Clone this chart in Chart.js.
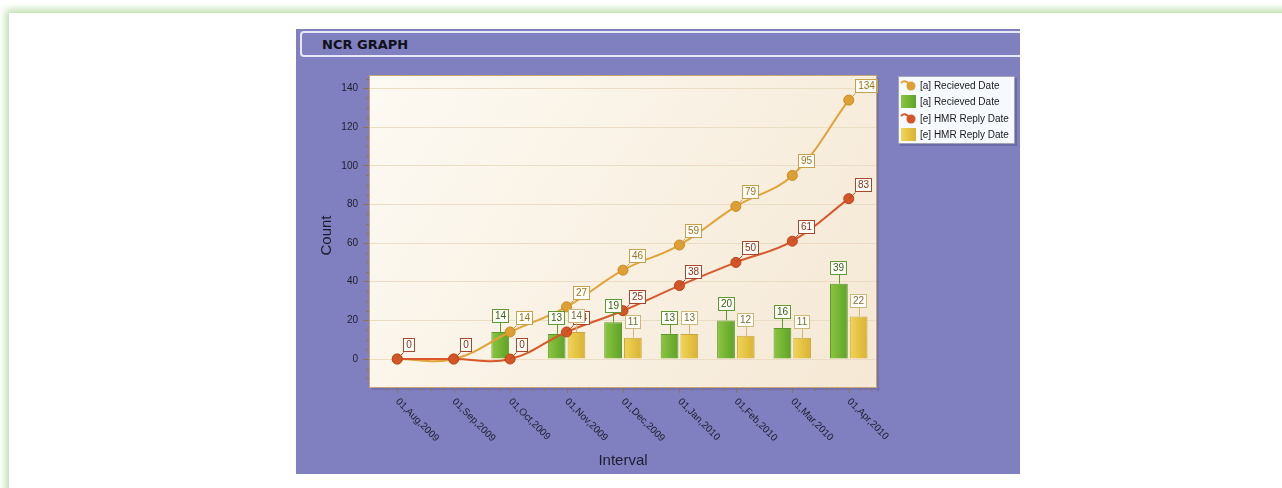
<!DOCTYPE html>
<html>
<head>
<meta charset="utf-8">
<script src="https://cdn.jsdelivr.net/npm/chart.js@4.4.1/dist/chart.umd.min.js"></script>
<style>
  html, body { margin: 0; padding: 0; background: #fff; overflow: hidden; }
  body { width: 1282px; height: 488px; position: relative; }
  #frame { position: absolute; left: 9px; top: 13px; width: 1320px; height: 520px; background: #fff; box-shadow: 0 0 8px 3px #b6dca6; }
  #panel { position: absolute; left: 296px; top: 29px; width: 724px; height: 445px; background: #8080c0; overflow: hidden; }
  #titlebar { position: absolute; left: 4px; top: 2px; width: 740px; height: 26px; border: 2px solid #e6e6f6; border-radius: 4px; box-sizing: border-box; }
  #titlebar span { position: absolute; left: 20px; top: 4px; font: bold 13px "DejaVu Sans", sans-serif; color: #101018; }
  #chart { position: absolute; left: 0; top: 0; }
</style>
</head>
<body>
<div id="frame"></div>
<div id="panel">
  <div id="titlebar"><span>NCR GRAPH</span></div>
  <canvas id="chart" width="724" height="445"></canvas>
</div>
<script>
// chart data
const categories = ['01,Aug,2009', '01,Sep,2009', '01,Oct,2009', '01,Nov,2009', '01,Dec,2009',
                    '01,Jan,2010', '01,Feb,2010', '01,Mar,2010', '01,Apr,2010'];
const receivedTotal = [0, 0, 14, 27, 46, 59, 79, 95, 134];
const receivedMonth = [0, 0, 14, 13, 19, 13, 20, 16, 39];
const replyTotal = [0, 0, 0, 14, 25, 38, 50, 61, 83];
const replyMonth = [0, 0, 0, 14, 11, 13, 12, 11, 22];
const yTicks = [0, 20, 40, 60, 80, 100, 120, 140];

const FONT = '"Liberation Sans", Arial, sans-serif';

// per-dataset label box colours
const labelStyle = [
  { border: '#c9a04a', text: '#9a7420' },
  { border: '#5e9a30', text: '#356018' },
  { border: '#a9472a', text: '#8a3018' },
  { border: '#cdb87a', text: '#7c6c3a' }
];

function barGradient(ctx, left, right) {
  const chart = ctx.chart;
  if (!chart.chartArea) return left;
  const x = chart.scales.x.getPixelForValue(ctx.dataIndex);
  const side = ctx.datasetIndex === 1 ? -1 : 1;
  const g = chart.ctx.createLinearGradient(x + (side < 0 ? -19 : 1), 0, x + (side < 0 ? -1 : 19), 0);
  g.addColorStop(0, left);
  g.addColorStop(1, right);
  return g;
}

const decor = {
  id: 'decor',
  beforeDraw(chart) {
    const { ctx, chartArea: a } = chart;
    ctx.save();
    // soft shadow on right / bottom
    ctx.fillStyle = '#7272b0';
    ctx.fillRect(a.left + 3, a.bottom, a.right - a.left, 2);
    ctx.fillRect(a.right, a.top + 3, 2, a.bottom - a.top);
    const g = ctx.createLinearGradient(a.left, a.top, a.right, a.bottom);
    g.addColorStop(0, '#fdfaf3');
    g.addColorStop(1, '#f5e8d4');
    ctx.fillStyle = g;
    ctx.fillRect(a.left, a.top, a.right - a.left, a.bottom - a.top);
    ctx.restore();
  },
  afterDatasetsDraw(chart) {
    const { ctx } = chart;
    ctx.save();
    ctx.font = '10px ' + FONT;
    ctx.textAlign = 'center';
    ctx.textBaseline = 'middle';
    chart.data.datasets.forEach((ds, di) => {
      const meta = chart.getDatasetMeta(di);
      const st = labelStyle[di];
      meta.data.forEach((el, i) => {
        const v = ds.data[i];
        const txt = String(v);
        const w = Math.round(ctx.measureText(txt).width) + 6;
        const h = 14;
        let bx, by;
        ctx.strokeStyle = st.border;
        ctx.lineWidth = 1;
        if (ds.type === 'line') {
          bx = Math.round(el.x + 6);
          by = Math.round(el.y - 7 - h);
          ctx.beginPath();
          ctx.moveTo(el.x, el.y);
          ctx.lineTo(bx + 0.5, by + h + 0.5);
          ctx.stroke();
        } else {
          if (v <= 0) return;
          bx = Math.round(el.x - w / 2);
          by = Math.round(el.y - 9 - h);
          ctx.beginPath();
          ctx.moveTo(Math.round(el.x) + 0.5, el.y);
          ctx.lineTo(Math.round(el.x) + 0.5, by + h);
          ctx.stroke();
        }
        ctx.fillStyle = '#fffef8';
        ctx.fillRect(bx, by, w, h);
        ctx.strokeRect(bx + 0.5, by + 0.5, w - 1, h - 1);
        ctx.fillStyle = st.text;
        ctx.fillText(txt, bx + w / 2, by + h / 2 + 0.5);
      });
    });
    ctx.restore();
  },
  afterDraw(chart) {
    const { ctx, chartArea: a } = chart;
    const xs = chart.scales.x, ys = chart.scales.y;
    ctx.save();
    // plot border
    ctx.strokeStyle = '#c4a474';
    ctx.lineWidth = 1;
    ctx.strokeRect(a.left + 0.5, a.top + 0.5, a.right - a.left - 1, a.bottom - a.top - 1);

    // y minor ticks
    ctx.strokeStyle = '#8c7456';
    ctx.beginPath();
    for (let v = -15; v <= 145; v += 5) {
      if (v % 20 === 0) continue;
      const y = Math.round(ys.getPixelForValue(v)) + 0.5;
      if (y < a.top || y > a.bottom) continue;
      ctx.moveTo(a.left - 3, y);
      ctx.lineTo(a.left, y);
    }
    // x ticks
    const step = (xs.getPixelForValue(1) - xs.getPixelForValue(0));
    for (let k = -1; k <= categories.length * 5 + 1; k++) {
      const x = xs.getPixelForValue(0) + k * step / 5;
      if (x < a.left || x > a.right) continue;
      const len = k % 5 === 0 ? 5 : 3;
      ctx.moveTo(Math.round(x) + 0.5, a.bottom);
      ctx.lineTo(Math.round(x) + 0.5, a.bottom + len);
    }
    ctx.stroke();

    // x tick labels, rotated down-right
    ctx.fillStyle = '#1c1c2c';
    ctx.font = '10px ' + FONT;
    ctx.textAlign = 'left';
    ctx.textBaseline = 'middle';
    categories.forEach((c, i) => {
      const x = xs.getPixelForValue(i);
      ctx.save();
      ctx.translate(x, a.bottom + 12);
      ctx.rotate(Math.PI / 4);
      ctx.fillText(c, 0, 0);
      ctx.restore();
    });

    // axis titles
    ctx.font = '15px ' + FONT;
    ctx.textAlign = 'center';
    ctx.fillStyle = '#1c1c2c';
    ctx.fillText('Interval', (a.left + a.right) / 2, 432);
    ctx.save();
    ctx.translate(31, (a.top + a.bottom) / 2 + 4);
    ctx.rotate(-Math.PI / 2);
    ctx.fillText('Count', 0, 0);
    ctx.restore();

    // legend box
    const lx = 602, ly = 47, lw = 117, lh = 68;
    ctx.fillStyle = '#6a6aa6';
    ctx.fillRect(lx + 2, ly + 2, lw, lh);
    ctx.fillStyle = '#f6f9fd';
    ctx.fillRect(lx, ly, lw, lh);
    ctx.strokeStyle = '#a4a4b8';
    ctx.strokeRect(lx + 0.5, ly + 0.5, lw - 1, lh - 1);
    const rows = [56, 72, 89, 105];
    ctx.font = '10px ' + FONT;
    ctx.textAlign = 'left';
    chart.data.datasets.forEach((ds, di) => {
      const y = ly + rows[di] - 47;
      if (ds.type === 'line') {
        ctx.strokeStyle = ds.borderColor;
        ctx.lineWidth = 2;
        ctx.beginPath();
        ctx.moveTo(605, y - 2);
        ctx.quadraticCurveTo(609, y - 6, 613, y - 1);
        ctx.stroke();
        ctx.fillStyle = ds.pointBackgroundColor;
        ctx.beginPath();
        ctx.arc(615, y + 1, 4.5, 0, Math.PI * 2);
        ctx.fill();
        ctx.lineWidth = 1;
      } else {
        const c = di === 1 ? ['#8cc63e', '#5ea22a'] : ['#f2d456', '#d8b233'];
        const g = ctx.createLinearGradient(605, 0, 620, 0);
        g.addColorStop(0, c[0]);
        g.addColorStop(1, c[1]);
        ctx.fillStyle = g;
        ctx.fillRect(605, y - 6, 15, 13);
      }
      ctx.fillStyle = '#1a1a1a';
      ctx.fillText(ds.label, 624, y + 1);
    });
    ctx.restore();
  }
};

new Chart(document.getElementById('chart').getContext('2d'), {
  data: {
    labels: categories,
    datasets: [
      {
        type: 'line', label: '[a] Recieved Date', data: receivedTotal, order: 1,
        borderColor: '#e2a236', borderWidth: 2, tension: 0.4,
        pointRadius: 5, pointBackgroundColor: '#dea032', pointBorderColor: '#c88a22', pointBorderWidth: 1
      },
      {
        type: 'bar', label: '[a] Recieved Date', data: receivedMonth, order: 2,
        backgroundColor: ctx => barGradient(ctx, '#8cc63e', '#5ea22a'),
        borderColor: '#5c9a2c', borderWidth: 1,
        categoryPercentage: 0.7, barPercentage: 0.9
      },
      {
        type: 'line', label: '[e] HMR Reply Date', data: replyTotal, order: 0,
        borderColor: '#d8582a', borderWidth: 2, tension: 0.4,
        pointRadius: 5, pointBackgroundColor: '#d65526', pointBorderColor: '#b84418', pointBorderWidth: 1
      },
      {
        type: 'bar', label: '[e] HMR Reply Date', data: replyMonth, order: 2,
        backgroundColor: ctx => barGradient(ctx, '#f2d456', '#d8b233'),
        borderColor: '#c9a640', borderWidth: 1,
        categoryPercentage: 0.7, barPercentage: 0.9
      }
    ]
  },
  options: {
    responsive: false,
    animation: false,
    layout: { padding: { left: 0, top: 46, right: 143, bottom: 0 } },
    plugins: { legend: { display: false }, tooltip: { enabled: false } },
    scales: {
      x: {
        type: 'category', offset: true,
        grid: { display: false }, border: { display: false },
        ticks: { display: false },
        afterFit: s => { s.height = 86; }
      },
      y: {
        min: -15, max: 147,
        afterBuildTicks: s => { s.ticks = yTicks.map(v => ({ value: v })); },
        ticks: { font: { family: FONT, size: 10 }, color: '#1c1c2c', padding: 5 },
        grid: { color: '#ebdcc4', tickColor: '#8c7456', tickLength: 6 },
        border: { display: false },
        afterFit: s => { s.width = 73; }
      }
    }
  },
  plugins: [decor]
});
</script>
</body>
</html>
